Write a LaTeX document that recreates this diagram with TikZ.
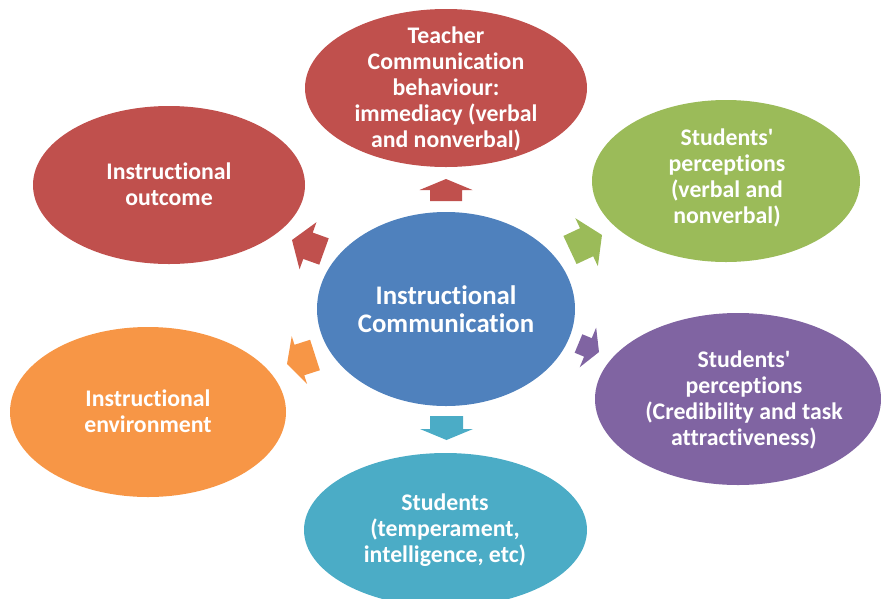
\documentclass[tikz,border=0pt]{standalone}
\usepackage{fontspec}
\setmainfont{Carlito}[Ligatures={NoCommon,NoContextual}]
\usetikzlibrary{calc,shapes.geometric}
\definecolor{cred}{HTML}{C0504D}
\definecolor{cgreen}{HTML}{9BBB59}
\definecolor{cblue}{HTML}{4F81BD}
\definecolor{cpurple}{HTML}{8064A2}
\definecolor{corange}{HTML}{F79646}
\definecolor{ccyan}{HTML}{4BACC6}
\tikzset{
  blob/.style={ellipse, draw=none, fill=#1, inner sep=0pt},
  lbl/.style={text=white, font=\bfseries\fontsize{23.8}{26}\selectfont, align=center, inner sep=0pt},
  biglbl/.style={text=white, font=\bfseries\fontsize{26.8}{28.5}\selectfont, align=center, inner sep=0pt}
}
\newcommand\blockarr[5]{%
  \coordinate (#1h) at ($(#1t)!#4!(#1b)$);
  \fill[#5] ($(#1b)!#2!90:(#1t)$) -- ($(#1h)!#2!90:(#1t)$) -- ($(#1h)!#3!90:(#1t)$) -- (#1t)
    -- ($(#1h)!#3!-90:(#1t)$) -- ($(#1h)!#2!-90:(#1t)$) -- ($(#1b)!#2!-90:(#1t)$) -- cycle;}
\begin{document}
\begin{tikzpicture}[x=1pt,y=-1pt]
\useasboundingbox (0,0) rectangle (881,598);
\clip (0,0) rectangle (881,598);
% ellipses
\node[blob=cblue, minimum width=258pt, minimum height=194pt] (center) at (446,309) {};
\node[blob=cred, minimum width=282pt, minimum height=158pt] (top) at (446,88) {};
\node[blob=cred, minimum width=272pt, minimum height=158pt] (outcome) at (169,185) {};
\node[blob=cgreen, minimum width=268pt, minimum height=162pt] (verbal) at (726,181) {};
\node[blob=cpurple, minimum width=286pt, minimum height=172pt] (cred) at (738,399) {};
\node[blob=corange, minimum width=276pt, minimum height=170pt] (env) at (148,412) {};
\node[blob=ccyan, minimum width=283pt, minimum height=154pt] (stud) at (445.5,530) {};
% texts
\node[biglbl] (centert) at (446,309) {Instructional\\Communication};
\node[lbl] (topt) at (446,89) {Teacher\\Communication\\behaviour:\\immediacy (verbal\\and nonverbal)};
\node[lbl] (outcomet) at (169,184) {Instructional\\outcome};
\node[lbl] (verbalt) at (727,177.5) {Students\textquotesingle\\perceptions\\(verbal and\\nonverbal)};
\node[lbl] (credt) at (744,399.5) {Students\textquotesingle\\perceptions\\(Credibility and task\\attractiveness)};
\node[lbl] (envt) at (148,411.5) {Instructional\\environment};
\node[lbl] (studt) at (445,530.5) {Students\\(temperament,\\intelligence, etc)};
% arrows
\coordinate (aTb) at (446,201); \coordinate (aTt) at (446,179);
\coordinate (aBb) at (446.5,416); \coordinate (aBt) at (446.5,440);
\coordinate (aLb) at (324,251.5); \coordinate (aLt) at (292,240);
\coordinate (aGb) at (570,250); \coordinate (aGt) at (602,235);
\coordinate (aOb) at (315,355); \coordinate (aOt) at (287,364);
\coordinate (aPb) at (578.5,343.5); \coordinate (aPt) at (599,352);
\blockarr{aT}{16pt}{26.5pt}{11pt}{cred}
\blockarr{aB}{16.5pt}{26.5pt}{11pt}{ccyan}
\blockarr{aL}{14pt}{25pt}{17pt}{cred}
\blockarr{aG}{15.5pt}{26.5pt}{17pt}{cgreen}
\blockarr{aO}{16pt}{25pt}{13pt}{corange}
\blockarr{aP}{10pt}{21.5pt}{12pt}{cpurple}
\end{tikzpicture}
\end{document}
